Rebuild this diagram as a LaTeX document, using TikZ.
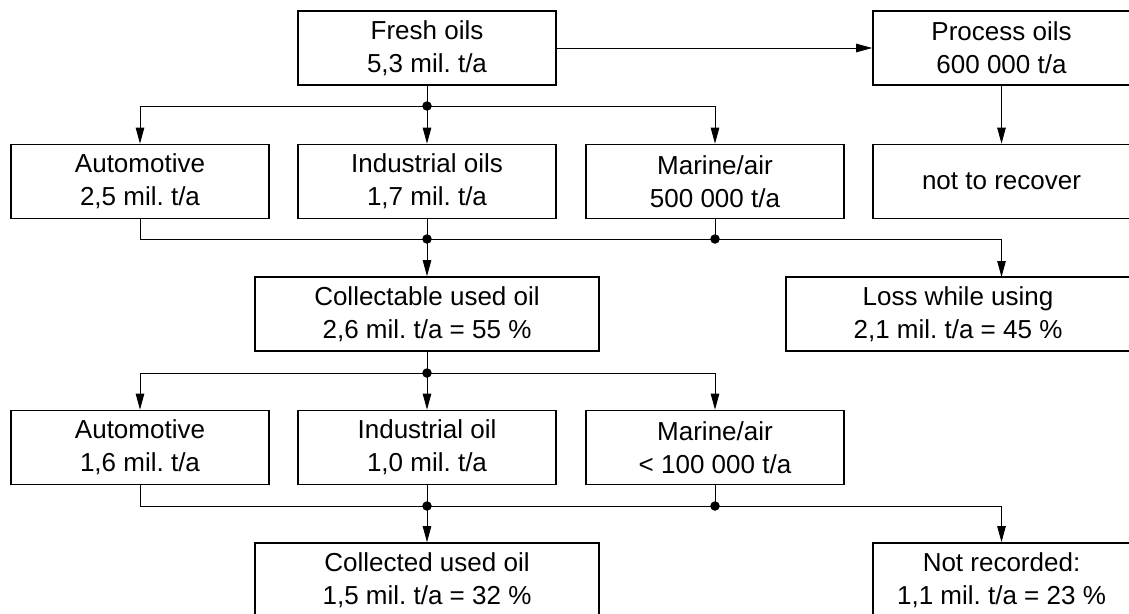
\documentclass[tikz,border=0pt]{standalone}
\usepackage{fontspec}
\setmainfont{Liberation Sans}
\frenchspacing
\usetikzlibrary{arrows.meta}
\tikzset{
  box/.style={draw, line width=1.7pt, rectangle, inner sep=0pt, minimum height=74pt,
    align=center, font=\fontsize{26}{33}\selectfont\frenchspacing},
  wbox/.style={box, minimum width=258pt},
  lbox/.style={box, minimum width=344pt},
  conn/.style={line width=0.9pt},
  arr/.style={conn, -{Triangle[length=16pt,width=8.5pt]}},
  dotc/.style={circle, fill, inner sep=0pt, minimum size=9.5pt},
}
\begin{document}
\begin{tikzpicture}[x=1pt,y=-1pt]
\clip (0,0) rectangle (1129,613);
\fill[white] (0,0) rectangle (1129,613);
% boxes
\node[wbox] (fresh) at (427,48) {Fresh oils\\5,3 mil. t/a};
\node[wbox, minimum width=257pt] (proc) at (1001.5,48) {Process oils\\600 000 t/a};
\node[wbox] (auto1) at (140,181.5) {Automotive\\2,5 mil. t/a};
\node[wbox] (ind1) at (427,181.5) {Industrial oils\\1,7 mil. t/a};
\node[wbox] (mar1) at (715,181.5) {Marine/air\\500 000 t/a};
\node[wbox, minimum width=257pt] (norec) at (1001.5,181.5) {not to recover};
\node[lbox] (coll) at (427,314) {Collectable used oil\\2,6 mil. t/a = 55 \%};
\node[lbox] (loss) at (958,314) {Loss while using\\2,1 mil. t/a = 45 \%};
\node[wbox] (auto2) at (140,447.5) {Automotive\\1,6 mil. t/a};
\node[wbox] (ind2) at (427,447.5) {Industrial oil\\1,0 mil. t/a};
\node[wbox] (mar2) at (715,447.5) {Marine/air\\< 100 000 t/a};
\node[lbox] (colled) at (427,580) {Collected used oil\\1,5 mil. t/a = 32 \%};
\node[wbox, minimum width=257pt] (notrec) at (1001.5,580) {Not recorded:\\1,1 mil. t/a = 23 \%};
% junctions
\coordinate (j1) at (427,106);
\coordinate (j2) at (427,239);
\coordinate (j3) at (715,239);
\coordinate (j4) at (427,373);
\coordinate (j5) at (427,506);
\coordinate (j6) at (715,506);
\coordinate (lossin) at (1001.5,277);
% connectors
\draw[arr] (fresh.east) -- (proc.west);
\draw[arr] (proc.south) -- (norec.north);
\draw[conn] (fresh.south) -- (j1);
\draw[arr] (j1) -- (ind1.north);
\draw[arr] (j1) -| (auto1.north);
\draw[arr] (j1) -| (mar1.north);
\draw[conn] (auto1.south) |- (j2);
\draw[conn] (ind1.south) -- (j2);
\draw[conn] (j2) -- (j3);
\draw[conn] (mar1.south) -- (j3);
\draw[arr] (j2) -- (coll.north);
\draw[arr] (j3) -| (lossin);
\draw[conn] (coll.south) -- (j4);
\draw[arr] (j4) -- (ind2.north);
\draw[arr] (j4) -| (auto2.north);
\draw[arr] (j4) -| (mar2.north);
\draw[conn] (auto2.south) |- (j5);
\draw[conn] (ind2.south) -- (j5);
\draw[conn] (j5) -- (j6);
\draw[conn] (mar2.south) -- (j6);
\draw[arr] (j5) -- (colled.north);
\draw[arr] (j6) -| (notrec.north);
% dots
\foreach \j in {j1,j2,j3,j4,j5,j6} \node[dotc] at (\j) {};
\end{tikzpicture}
\end{document}
